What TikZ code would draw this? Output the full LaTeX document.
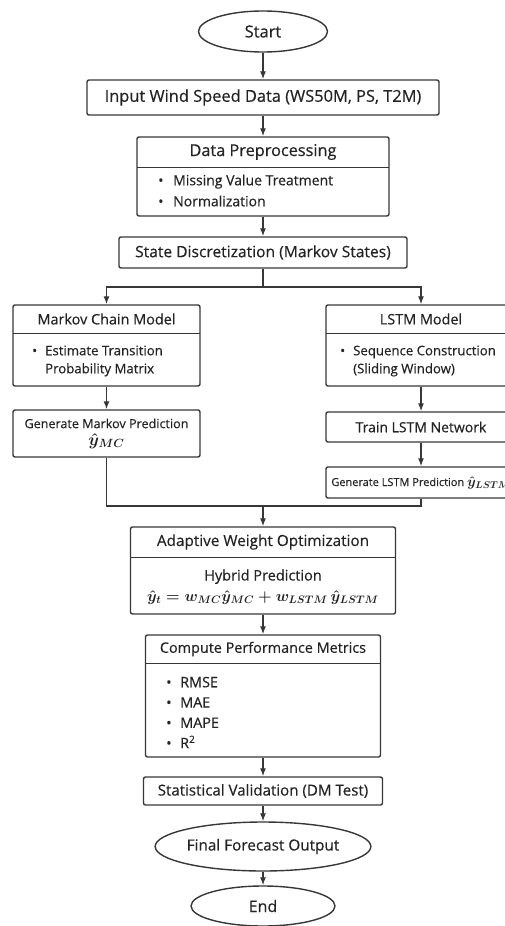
\documentclass[tikz,border=0pt]{standalone}
\usepackage{fix-cm}
\usepackage{fontspec}
\setmainfont{Open Sans}[FakeBold=0.4]
\usepackage{amsmath}
\usetikzlibrary{shapes.geometric,arrows.meta,positioning,calc}
\definecolor{lineGray}{RGB}{55,55,55}
\definecolor{textGray}{RGB}{35,35,35}
\newcommand{\fsz}[2]{\fontsize{#1}{#2}\selectfont}
\newcommand{\bul}[1]{\makebox[#1][l]{\textbullet}}

\begin{document}
\begin{tikzpicture}[x=1pt, y=-1pt,
    box/.style={draw=lineGray, line width=1.4pt, rounded corners=2pt, inner sep=0pt, text=textGray},
    term/.style={ellipse, draw=lineGray, line width=1.4pt, inner sep=0pt, text=textGray},
    head/.style={inner sep=0pt, text=textGray},
    body/.style={inner sep=0pt, align=left, anchor=west, text=textGray},
    link/.style={draw=lineGray, line width=1.2pt},
    arr/.style={link, -{Latex[length=8pt,width=6pt]}}]
    \useasboundingbox (0,0) rectangle (505,926);

    % main column
    \node[term, minimum width=129pt, minimum height=41pt, font=\fsz{16.5}{18}] (start) at (263,31.5) {Start};
    \node[box, minimum width=352pt, minimum height=35pt, font=\fsz{16.4}{18}] (input) at (263,97.5) {Input Wind Speed Data (WS50M, PS, T2M)};

    \node[box, minimum width=252pt, minimum height=79pt] (prep) at (263,176.5) {};
    \node[head, minimum width=252pt, minimum height=31pt, anchor=north, font=\fsz{16.3}{18}] (prephead) at (prep.north) {Data Preprocessing};
    \draw[link] (prephead.south west) -- (prephead.south east);
    \node[body, font=\fsz{14}{21}] (prepbody) at (158,190.5) {\bul{15pt}Missing Value Treatment\\\bul{15pt}Normalization};

    \node[box, minimum width=288pt, minimum height=31pt, font=\fsz{15.6}{18}] (state) at (263,252.5) {State Discretization (Markov States)};

    % Markov branch
    \node[box, minimum width=187pt, minimum height=81pt] (markov) at (106.5,345.5) {};
    \node[head, minimum width=187pt, minimum height=29pt, anchor=north, font=\fsz{14.4}{17}] (markovhead) at (markov.north) {Markov Chain Model};
    \draw[link] (markovhead.south west) -- (markovhead.south east);
    \node[body, font=\fsz{13.2}{18}] (markovbody) at (32,361) {\bul{13pt}Estimate Transition\\\hspace*{13pt}Probability Matrix};
    \node[box, minimum width=187pt, minimum height=47pt, align=center, font=\fsz{12.6}{17}] (mcgen) at (106.5,433.5) {Generate Markov Prediction\\{\fsz{17}{17}\boldmath$\hat{y}_{MC}$}};

    % LSTM branch
    \node[box, minimum width=190pt, minimum height=81pt] (lstm) at (421,345.5) {};
    \node[head, minimum width=190pt, minimum height=29pt, anchor=north, font=\fsz{14.4}{17}] (lstmhead) at (lstm.north) {LSTM Model};
    \draw[link] (lstmhead.south west) -- (lstmhead.south east);
    \node[body, font=\fsz{13.2}{18}] (lstmbody) at (340,361) {\bul{13pt}Sequence Construction\\\hspace*{13pt}(Sliding Window)};
    \node[box, minimum width=190pt, minimum height=30pt, font=\fsz{14}{16}] (train) at (421,427) {Train LSTM Network};
    \node[box, minimum width=190pt, minimum height=31pt, font=\fsz{11}{14}] (lstmgen) at (421,482.5) {Generate LSTM Prediction {\fsz{14}{14}\boldmath$\hat{y}_{LSTM}$}};

    % fusion and evaluation
    \node[box, minimum width=265pt, minimum height=87pt] (adapt) at (263,570.5) {};
    \node[head, minimum width=265pt, minimum height=31pt, anchor=north, font=\fsz{15.3}{17}] (adapthead) at (adapt.north) {Adaptive Weight Optimization};
    \draw[link] (adapthead.south west) -- (adapthead.south east);
    \node[head, align=center, font=\fsz{14.5}{21}] (adaptbody) at (263,587) {Hybrid Prediction\\{\fsz{15.5}{18}\boldmath$\hat{y}_t = w_{MC}\hat{y}_{MC} + w_{LSTM}\,\hat{y}_{LSTM}$}};

    \node[box, minimum width=235pt, minimum height=122pt] (metrics) at (263,696) {};
    \node[head, minimum width=235pt, minimum height=29pt, anchor=north, font=\fsz{14.4}{17}] (metricshead) at (metrics.north) {Compute Performance Metrics};
    \draw[link] (metricshead.south west) -- (metricshead.south east);
    \node[body, font=\fsz{14.4}{20.3}] (metricsbody) at (166,712.5) {\bul{14pt}RMSE\\\bul{14pt}MAE\\\bul{14pt}MAPE\\\bul{14pt}R\textsuperscript{2}};

    \node[box, minimum width=239pt, minimum height=28pt, font=\fsz{15.1}{17}] (valid) at (263,791) {Statistical Validation (DM Test)};
    \node[term, minimum width=207pt, minimum height=49pt, font=\fsz{15.3}{17}] (final) at (263,846.5) {Final Forecast Output};
    \node[term, minimum width=144pt, minimum height=40pt, font=\fsz{16}{18}] (end) at (263,906) {End};

    % connectors
    \draw[arr] (start) -- (input);
    \draw[arr] (input) -- (prep);
    \draw[arr] (prep) -- (state);
    \coordinate (split) at (263,287);
    \draw[link] (state) -- (split);
    \draw[arr] (split) -| (markov.north);
    \draw[arr] (split) -| (lstm.north);
    \draw[arr] (markov) -- (mcgen);
    \draw[arr] (lstm) -- (train);
    \draw[arr] (train) -- (lstmgen);
    \coordinate (merge) at (263,506);
    \draw[link] (mcgen.south) |- (merge);
    \draw[link] (lstmgen.south) |- (merge);
    \draw[arr] (merge) -- (adapt.north);
    \draw[arr] (adapt) -- (metrics);
    \draw[arr] (metrics) -- (valid);
    \draw[arr] (valid) -- (final);
    \draw[arr] (final) -- (end);
\end{tikzpicture}
\end{document}
